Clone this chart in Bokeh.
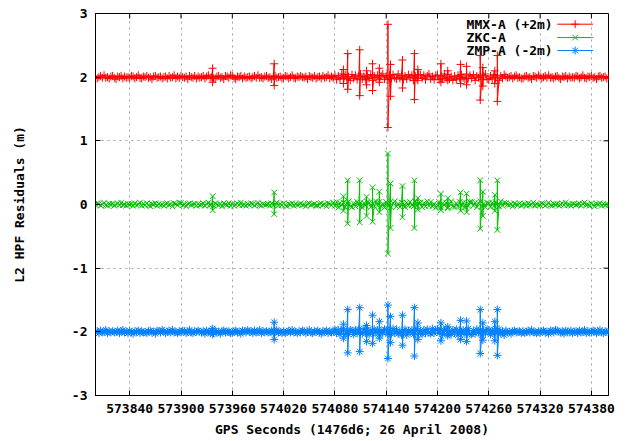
from bokeh.plotting import figure
from bokeh.models import Range1d, FixedTicker, Label
from bokeh.embed import file_html
from bokeh.resources import INLINE

# ---------------- data ----------------
series_labels = ["MMX-A (+2m)", "ZKC-A", "ZMP-A (-2m)"]
series_offsets = [2.0, 0.0, -2.0]
series_colors = ["#ff0000", "#00c000", "#0080ff"]
series_markers = ["cross", "x", "asterisk"]

x_ticks = [573840, 573900, 573960, 574020, 574080, 574140, 574200, 574260, 574320, 574380]
x_tick_labels = ["573840", "573900", "573960", "574020", "574080", "574140", "574200", "574260", "574320", "574380"]
y_ticks = [-3, -2, -1, 0, 1, 2, 3]
y_tick_labels = ["-3", "-2", "-1", "0", "1", "2", "3"]

# sample epochs (GPS seconds), 2 s grid
sample_times = list(range(573800, 574401, 2))

# background residual noise in cm at each sample epoch
mmx_noise_cm = [
    1, -2, 0, 2, -1, 3, -1, 0, -2, 1,
    2, -1, -3, 1, 0, 2, -2, 1, -1, 0,
    -1, 2, 1, -2, 0, 3, -1, -2, 1, 0,
    2, -1, 0, -3, 1, 2, -1, 0, 1, -2,
    0, 1, -2, 2, -1, 0, 3, -2, 1, -1,
    2, 0, -1, 1, -3, 2, 0, -1, 2, -2,
    1, -1, 0, 2, -2, 1, 3, -1, 0, -2,
    -2, 1, 2, -1, 0, -3, 2, 1, -1, 3,
    2, -1, -3, 1, 0, 2, -2, 1, -1, 0,
    1, -2, 0, 2, -1, 3, -1, 0, -2, 1,
    2, -1, 0, -3, 1, 2, -1, 0, 1, -2,
    -1, 2, 1, -2, 0, 3, -1, -2, 1, 0,
    2, 0, -1, 1, -3, 2, 0, -1, 2, -2,
    0, 1, -2, 2, -1, 0, 3, -2, 1, -1,
    3, -4, 2, -3, 5, -2, 4, -3, 1, -5,
    4, -2, 3, -4, 2, 5, -3, 1, -4, 3,
    -2, 4, -5, 2, -1, 3, -4, 2, 5, -3,
    2, -4, 3, -2, 4, -1, -3, 5, -2, 3,
    -4, 2, -3, 4, -1, 3, -5, 2, -2, 4,
    4, -2, 3, -4, 2, 5, -3, 1, -4, 3,
    3, -4, 2, -3, 5, -2, 4, -3, 1, -5,
    2, -4, 3, -2, 4, -1, -3, 5, -2, 3,
    -2, 4, -5, 2, -1, 3, -4, 2, 5, -3,
    -4, 2, -3, 4, -1, 3, -5, 2, -2, 4,
    1, -1, 0, 2, -2, 1, 3, -1, 0, -2,
    -2, 1, 2, -1, 0, -3, 2, 1, -1, 3,
    1, -2, 0, 2, -1, 3, -1, 0, -2, 1,
    2, -1, -3, 1, 0, 2, -2, 1, -1, 0,
    -1, 2, 1, -2, 0, 3, -1, -2, 1, 0,
    2, -1, 0, -3, 1, 2, -1, 0, 1, -2,
    1]
zkc_noise_cm = [
    -1, 2, 1, -2, 0, 3, -1, -2, 1, 0,
    1, -2, 0, 2, -1, 3, -1, 0, -2, 1,
    0, 1, -2, 2, -1, 0, 3, -2, 1, -1,
    2, -1, -3, 1, 0, 2, -2, 1, -1, 0,
    -2, 1, 2, -1, 0, -3, 2, 1, -1, 3,
    2, -1, 0, -3, 1, 2, -1, 0, 1, -2,
    1, -1, 0, 2, -2, 1, 3, -1, 0, -2,
    2, 0, -1, 1, -3, 2, 0, -1, 2, -2,
    1, -2, 0, 2, -1, 3, -1, 0, -2, 1,
    -1, 2, 1, -2, 0, 3, -1, -2, 1, 0,
    0, 1, -2, 2, -1, 0, 3, -2, 1, -1,
    2, -1, -3, 1, 0, 2, -2, 1, -1, 0,
    2, -1, 0, -3, 1, 2, -1, 0, 1, -2,
    -2, 1, 2, -1, 0, -3, 2, 1, -1, 3,
    -2, 4, -5, 2, -1, 3, -4, 2, 5, -3,
    -4, 2, -3, 4, -1, 3, -5, 2, -2, 4,
    3, -4, 2, -3, 5, -2, 4, -3, 1, -5,
    4, -2, 3, -4, 2, 5, -3, 1, -4, 3,
    2, -4, 3, -2, 4, -1, -3, 5, -2, 3,
    3, -4, 2, -3, 5, -2, 4, -3, 1, -5,
    -2, 4, -5, 2, -1, 3, -4, 2, 5, -3,
    -4, 2, -3, 4, -1, 3, -5, 2, -2, 4,
    4, -2, 3, -4, 2, 5, -3, 1, -4, 3,
    2, -4, 3, -2, 4, -1, -3, 5, -2, 3,
    2, 0, -1, 1, -3, 2, 0, -1, 2, -2,
    0, 1, -2, 2, -1, 0, 3, -2, 1, -1,
    -1, 2, 1, -2, 0, 3, -1, -2, 1, 0,
    1, -2, 0, 2, -1, 3, -1, 0, -2, 1,
    1, -1, 0, 2, -2, 1, 3, -1, 0, -2,
    2, -1, -3, 1, 0, 2, -2, 1, -1, 0,
    -1]
zmp_noise_cm = [
    0, 1, -2, 2, -1, 0, 3, -2, 1, -1,
    1, -1, 0, 2, -2, 1, 3, -1, 0, -2,
    2, -1, -3, 1, 0, 2, -2, 1, -1, 0,
    -2, 1, 2, -1, 0, -3, 2, 1, -1, 3,
    1, -2, 0, 2, -1, 3, -1, 0, -2, 1,
    -1, 2, 1, -2, 0, 3, -1, -2, 1, 0,
    2, 0, -1, 1, -3, 2, 0, -1, 2, -2,
    2, -1, 0, -3, 1, 2, -1, 0, 1, -2,
    -2, 1, 2, -1, 0, -3, 2, 1, -1, 3,
    0, 1, -2, 2, -1, 0, 3, -2, 1, -1,
    1, -1, 0, 2, -2, 1, 3, -1, 0, -2,
    1, -2, 0, 2, -1, 3, -1, 0, -2, 1,
    -1, 2, 1, -2, 0, 3, -1, -2, 1, 0,
    2, -1, -3, 1, 0, 2, -2, 1, -1, 0,
    4, -2, 3, -4, 2, 5, -3, 1, -4, 3,
    2, -4, 3, -2, 4, -1, -3, 5, -2, 3,
    -4, 2, -3, 4, -1, 3, -5, 2, -2, 4,
    3, -4, 2, -3, 5, -2, 4, -3, 1, -5,
    -2, 4, -5, 2, -1, 3, -4, 2, 5, -3,
    2, -4, 3, -2, 4, -1, -3, 5, -2, 3,
    4, -2, 3, -4, 2, 5, -3, 1, -4, 3,
    -2, 4, -5, 2, -1, 3, -4, 2, 5, -3,
    -4, 2, -3, 4, -1, 3, -5, 2, -2, 4,
    3, -4, 2, -3, 5, -2, 4, -3, 1, -5,
    2, -1, 0, -3, 1, 2, -1, 0, 1, -2,
    1, -2, 0, 2, -1, 3, -1, 0, -2, 1,
    -2, 1, 2, -1, 0, -3, 2, 1, -1, 3,
    2, 0, -1, 1, -3, 2, 0, -1, 2, -2,
    0, 1, -2, 2, -1, 0, 3, -2, 1, -1,
    -1, 2, 1, -2, 0, 3, -1, -2, 1, 0,
    0]

# outlier epochs (common to all stations) and the high / low residuals (m)
spike_times = [573937, 574009, 574090, 574095, 574109, 574117, 574124, 574132, 574142, 574145,
               574159, 574173, 574177, 574204, 574212, 574227, 574234, 574250, 574253, 574267, 574270]
mmx_hi = [0.14, 0.21, 0.12, 0.37, 0.43, 0.10, 0.21, 0.14, 0.83, 0.20,
          0.27, 0.37, 0.12, 0.21, 0.10, 0.20, 0.17, 0.34, 0.15, 0.10, 0.34]
mmx_lo = [-0.08, -0.13, -0.10, -0.19, -0.29, -0.12, -0.21, -0.08, -0.79, -0.30,
          -0.17, -0.35, -0.05, -0.08, -0.05, -0.10, -0.12, -0.36, -0.14, -0.10, -0.38]
zkc_hi = [0.13, 0.19, 0.13, 0.38, 0.38, 0.12, 0.27, 0.20, 0.80, 0.33,
          0.29, 0.38, 0.10, 0.17, 0.10, 0.19, 0.17, 0.38, 0.20, 0.15, 0.38]
zkc_lo = [-0.09, -0.15, -0.10, -0.30, -0.28, -0.18, -0.27, -0.12, -0.77, -0.37,
          -0.20, -0.37, -0.08, -0.09, -0.06, -0.10, -0.12, -0.38, -0.18, -0.10, -0.40]
zmp_hi = [0.05, 0.15, 0.12, 0.35, 0.38, 0.10, 0.26, 0.16, 0.42, 0.24,
          0.26, 0.38, 0.14, 0.14, 0.08, 0.18, 0.17, 0.35, 0.14, 0.16, 0.35]
zmp_lo = [-0.04, -0.12, -0.10, -0.33, -0.31, -0.15, -0.18, -0.10, -0.42, -0.17,
          -0.21, -0.38, -0.12, -0.14, -0.06, -0.12, -0.15, -0.34, -0.13, -0.14, -0.37]

x_label = "GPS Seconds (1476d6; 26 April 2008)"
y_label = "L2 HPF Residuals (m)"

# ---------------- build ----------------
FONT = "DejaVu Sans Mono"
X0, X1 = 573800, 574400
Y0, Y1 = -3, 3
W, H = 636, 441
BL, BR, BT, BB = 95, 28, 13, 46
FW, FH = W - BL - BR, H - BT - BB
TICK = 5
MSIZE = 8


def series_points(offset, noise_cm, hi, lo):
    pts = [(t, offset + n / 100.0, 0) for t, n in zip(sample_times, noise_cm)]
    for t, h, l in zip(spike_times, hi, lo):
        pts.append((t, offset + h, 1))
        pts.append((t, offset + l, 2))
    pts.sort(key=lambda q: (q[0], q[2]))
    return [q[0] for q in pts], [q[1] for q in pts]


p = figure(width=W, height=H, output_backend="svg", toolbar_location=None,
           x_range=Range1d(X0, X1), y_range=Range1d(Y0, Y1),
           min_border_left=BL, min_border_right=BR, min_border_top=BT, min_border_bottom=BB,
           background_fill_color="white", border_fill_color="white")
p.outline_line_color = "black"
p.outline_line_width = 1

xt = FixedTicker(ticks=x_ticks)
yt = FixedTicker(ticks=y_ticks)

for ax in p.xaxis:
    ax.ticker = xt
    ax.major_label_overrides = dict(zip(x_ticks, x_tick_labels))
for ax in p.yaxis:
    ax.ticker = yt
    ax.major_label_overrides = dict(zip(y_ticks, y_tick_labels))

for ax in p.axis:
    ax.major_tick_in = TICK
    ax.major_tick_out = 0
    ax.minor_tick_line_color = None
    ax.axis_line_color = "black"
    ax.major_tick_line_color = "black"
    ax.major_label_text_font = FONT
    ax.major_label_text_font_style = "bold"
    ax.major_label_text_font_size = "13px"
    ax.major_label_text_color = "black"
    ax.axis_label_text_font = FONT
    ax.axis_label_text_font_style = "bold"
    ax.axis_label_text_font_size = "13px"
    ax.axis_label_text_color = "black"

p.xaxis.axis_label = x_label
p.yaxis.axis_label = y_label
p.xaxis.major_label_standoff = 8
p.xaxis.axis_label_standoff = 6
p.yaxis.major_label_standoff = 8
p.yaxis.axis_label_standoff = 42

for g in (p.xgrid, p.ygrid):
    g.grid_line_color = "#a0a0a0"
    g.grid_line_dash = "2 4"
    g.grid_line_width = 1
p.xgrid.ticker = xt
p.ygrid.ticker = yt

# mirrored inward ticks on the top and right frame edges
dy = TICK * (Y1 - Y0) / FH
dx = TICK * (X1 - X0) / FW
p.segment(x0=x_ticks, y0=[Y1] * len(x_ticks), x1=x_ticks, y1=[Y1 - dy] * len(x_ticks),
          line_color="black", line_width=1)
p.segment(x0=[X1] * len(y_ticks), y0=y_ticks, x1=[X1 - dx] * len(y_ticks), y1=y_ticks,
          line_color="black", line_width=1)

noises = [mmx_noise_cm, zkc_noise_cm, zmp_noise_cm]
his = [mmx_hi, zkc_hi, zmp_hi]
los = [mmx_lo, zkc_lo, zmp_lo]

for off, nz, hi, lo, col, mk in zip(series_offsets, noises, his, los, series_colors, series_markers):
    xs, ys = series_points(off, nz, hi, lo)
    p.line(xs, ys, line_color=col, line_width=1)
    p.scatter(xs, ys, marker=mk, size=MSIZE, line_color=col, fill_color=col, line_width=1)

# key (text left, sample right, like gnuplot)
span_x = X1 - X0
span_y = Y1 - Y0
key_text_x = X0 + 0.7234 * span_x
key_s0 = X0 + 0.900 * span_x
key_s1 = X0 + 0.970 * span_x
key_rows = [0.028, 0.063, 0.097]
for lab, col, mk, fr in zip(series_labels, series_colors, series_markers, key_rows):
    yk = Y1 - fr * span_y
    p.add_layout(Label(x=key_text_x, y=yk, text=lab, text_font=FONT, text_font_style="bold",
                       text_font_size="13px", text_color="black", text_baseline="middle",
                       text_align="left"))
    p.line([key_s0, key_s1], [yk, yk], line_color=col, line_width=1)
    p.scatter([(key_s0 + key_s1) / 2], [yk], marker=mk, size=MSIZE, line_color=col, fill_color=col)

open("out.html", "w").write(file_html(p, INLINE))
